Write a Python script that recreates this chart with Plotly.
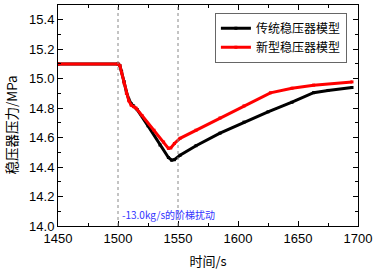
import plotly.graph_objects as go

time_black = [1450, 1500, 1501.5, 1503, 1505, 1507, 1509, 1511, 1513, 1516, 1525, 1535, 1542, 1544.7, 1547, 1551.7, 1565, 1585, 1605, 1625, 1645, 1663, 1675, 1695]
p_black = [15.1, 15.1, 15.09, 15.05, 14.98, 14.91, 14.86, 14.83, 14.815, 14.79, 14.68, 14.55, 14.465, 14.447, 14.45, 14.48, 14.545, 14.63, 14.705, 14.775, 14.84, 14.905, 14.92, 14.94]

time_red = [1450, 1500, 1501.5, 1503, 1505, 1507, 1509, 1511, 1513, 1515, 1520, 1530, 1538, 1542, 1544, 1547, 1551.7, 1565, 1585, 1605, 1627, 1645, 1663, 1695]
p_red = [15.1, 15.1, 15.09, 15.04, 14.97, 14.9, 14.85, 14.82, 14.81, 14.8, 14.75, 14.65, 14.57, 14.527, 14.53, 14.56, 14.595, 14.65, 14.733, 14.815, 14.904, 14.935, 14.956, 14.978]

names = ["传统稳压器模型", "新型稳压器模型"]
step_times = [1500, 1550]
note = "-13.0kg/s的阶梯扰动"
y_title = "稳压器压力/MPa"
x_title = "时间/s"

fig = go.Figure()
fig.add_trace(go.Scatter(x=time_black, y=p_black, name=names[0], mode="lines+markers",
                         line=dict(color="black", width=3), marker=dict(symbol="square", size=3, color="black")))
fig.add_trace(go.Scatter(x=time_red, y=p_red, name=names[1], mode="lines+markers",
                         line=dict(color="#ff0000", width=3), marker=dict(symbol="square", size=3, color="#ff0000")))

for t in step_times:
    fig.add_vline(x=t, line=dict(color="#888888", width=1, dash="dot"))

fig.add_annotation(x=1502, y=14.075, text=note, showarrow=False, xanchor="left", yanchor="middle",
                   font=dict(family="Noto Sans CJK SC, Liberation Sans", size=10, color="#3333ff"))

fig.add_annotation(xref="paper", yref="paper", x=-0.158, y=0.457, text=y_title, textangle=-90,
                   showarrow=False, xanchor="center", yanchor="middle",
                   font=dict(family="Noto Sans CJK SC", size=13.5, color="black"))

axis_common = dict(showline=True, linecolor="black", linewidth=1, mirror="ticks", ticks="inside",
                   ticklen=5, tickcolor="black", showgrid=False, zeroline=False, automargin=False,
                   tickfont=dict(family="Liberation Sans, Arial", size=13, color="black"))

fig.update_layout(
    width=375, height=272,
    margin=dict(l=58, r=17, t=5, b=46),
    plot_bgcolor="white", paper_bgcolor="white",
    showlegend=True,
    legend=dict(x=0.523, y=0.965, xanchor="left", yanchor="top", bgcolor="white",
                bordercolor="#666666", borderwidth=1,
                font=dict(family="Noto Sans CJK SC", size=12, color="black"),
                tracegroupgap=0, itemwidth=30),
    xaxis=dict(range=[1450, 1700], tickvals=[1450, 1500, 1550, 1600, 1650, 1700],
               minor=dict(ticks="inside", ticklen=3, dtick=25, tickcolor="black"),
               title=dict(text=x_title, font=dict(family="Noto Sans CJK SC", size=13, color="black"), standoff=12),
               **axis_common),
    yaxis=dict(range=[14.0, 15.5], tickvals=[14.0, 14.2, 14.4, 14.6, 14.8, 15.0, 15.2, 15.4],
               tickformat=".1f",
               minor=dict(ticks="inside", ticklen=3, dtick=0.1, tickcolor="black"),
               **axis_common),
)

fig.write_html("out.html", config={"displayModeBar": False},
               post_script="document.body.style.margin='0';document.body.style.overflow='hidden';")
